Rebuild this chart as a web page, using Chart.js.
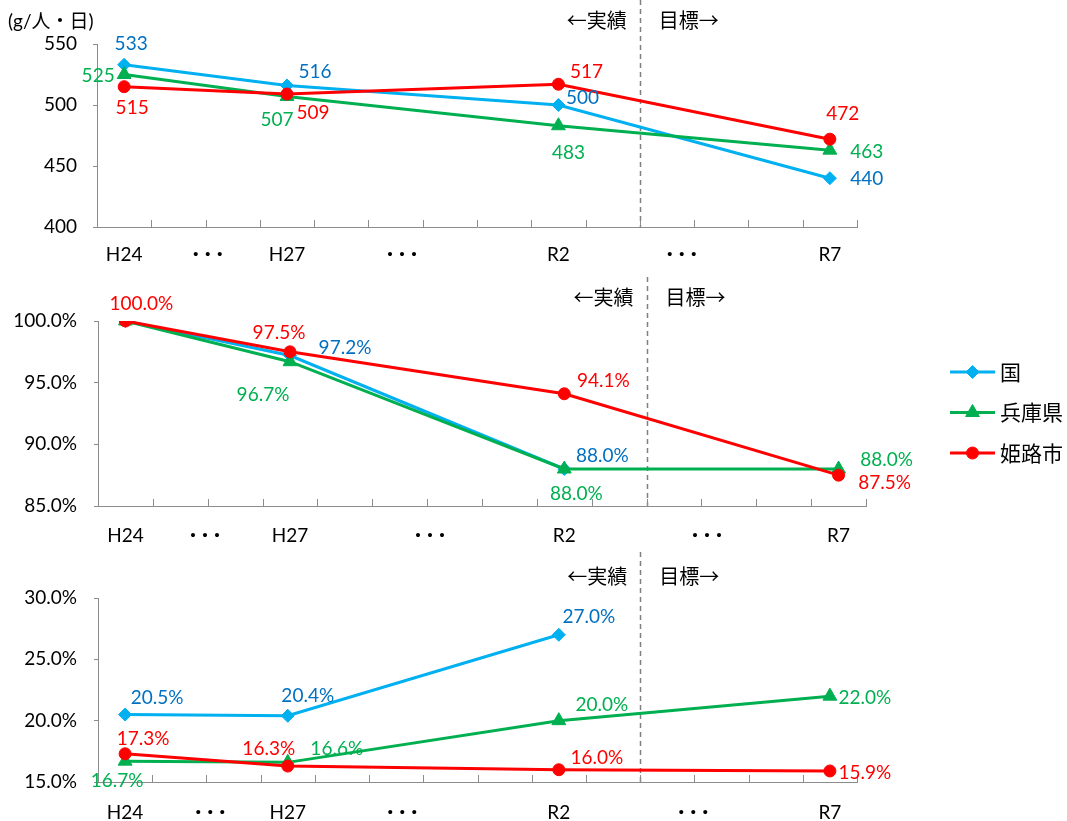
<!DOCTYPE html>
<html lang="ja">
<head>
<meta charset="utf-8">
<title>ごみ排出量等の推移</title>
<script src="https://cdn.jsdelivr.net/npm/chart.js@4.4.1/dist/chart.umd.min.js"></script>
<style>
html,body{margin:0;padding:0;background:#fff;}
#wrap{position:relative;width:1067px;height:821px;overflow:hidden;background:#fff;}
#wrap canvas{position:absolute;left:0;}
</style>
</head>
<body>
<div id="wrap">
<canvas id="c1" width="1067" height="270" style="top:0px"></canvas>
<canvas id="c2" width="1067" height="280" style="top:270px"></canvas>
<canvas id="c3" width="1067" height="271" style="top:550px"></canvas>
</div>
<script>
// ---- data ----
const years = ['H24','H25','H26','H27','H28','H29','H30','R1','R2','R3','R4','R5','R6','R7'];
const shownYears = ['H24','H27','R2','R7'];
const seriesNames = ['国', '兵庫県', '姫路市'];

// 1人1日当たりごみ排出量 (g/人・日)
const kuniWaste   = [533, null, null, 516, null, null, null, null, 500, null, null, null, null, 440];
const hyogoWaste  = [525, null, null, 507, null, null, null, null, 483, null, null, null, null, 463];
const himejiWaste = [515, null, null, 509, null, null, null, null, 517, null, null, null, null, 472];

// H24を100%とした割合
const kuniIndex   = [100.0, null, null, 97.2, null, null, null, null, 88.0, null, null, null, null, null];
const hyogoIndex  = [100.0, null, null, 96.7, null, null, null, null, 88.0, null, null, null, null, 88.0];
const himejiIndex = [100.0, null, null, 97.5, null, null, null, null, 94.1, null, null, null, null, 87.5];

// 率 (%)
const kuniRate   = [20.5, null, null, 20.4, null, null, null, null, 27.0, null, null, null, null, null];
const hyogoRate  = [16.7, null, null, 16.6, null, null, null, null, 20.0, null, null, null, null, 22.0];
const himejiRate = [17.3, null, null, 16.3, null, null, null, null, 16.0, null, null, null, null, 15.9];

// ---- styles ----
const FONT = "Lato, 'Noto Sans CJK JP', sans-serif";
const JP_FONT = "'Noto Sans CJK JP', sans-serif";
const TEXT_SIZE = 19;
const AXIS_GRAY = '#8c8c8c';
const LINE_COLORS  = ['#00B0F0', '#00B050', '#FF0000'];
const LABEL_COLORS = ['#0070C0', '#00B050', '#FF0000'];
const POINT_STYLES = ['rectRot', 'triangle', 'circle'];
const POINT_RADII  = [6.5, 8, 6];
const DRAW_ORDER   = [2, 1, 0];   // 姫路市 on top

function makeDatasets(arrays) {
  return arrays.map((arr, i) => ({
    label: seriesNames[i],
    data: arr,
    order: DRAW_ORDER[i],
    borderColor: LINE_COLORS[i],
    backgroundColor: LINE_COLORS[i],
    borderWidth: 3,
    pointStyle: POINT_STYLES[i],
    pointRadius: POINT_RADII[i],
    pointBorderWidth: 1,
    pointBorderColor: LINE_COLORS[i],
    pointBackgroundColor: LINE_COLORS[i],
    spanGaps: true,
    tension: 0
  }));
}

// axis ornaments, period divider, value labels
function makeDecor(cfg) {
  return {
    id: 'decor',
    beforeDatasetsDraw(chart) {
      const ctx = chart.ctx, xs = chart.scales.x, a = chart.chartArea;
      const dx = Math.round(xs.getPixelForValue(cfg.dividerAt)) + 0.5;
      ctx.save();
      ctx.strokeStyle = '#7f7f7f';
      ctx.lineWidth = 1.5;
      ctx.setLineDash([5, 4]);
      ctx.beginPath();
      ctx.moveTo(dx, a.top - cfg.dividerRise);
      ctx.lineTo(dx, a.bottom);
      ctx.stroke();
      ctx.restore();
    },
    afterDatasetsDraw(chart) {
      const ctx = chart.ctx, xs = chart.scales.x, a = chart.chartArea;
      ctx.save();
      // inside tick marks between categories
      ctx.strokeStyle = AXIS_GRAY;
      ctx.lineWidth = 1;
      for (let k = 1; k <= years.length; k++) {
        const px = Math.round(xs.getPixelForValue(k - 0.5)) + 0.5;
        ctx.beginPath();
        ctx.moveTo(px, a.bottom);
        ctx.lineTo(px, a.bottom - 7);
        ctx.stroke();
      }
      // value labels
      ctx.font = TEXT_SIZE + 'px ' + FONT;
      ctx.textAlign = 'center';
      ctx.textBaseline = 'middle';
      chart.data.datasets.forEach((ds, i) => {
        const meta = chart.getDatasetMeta(i);
        const offs = cfg.labelOffsets[i] || {};
        meta.data.forEach((pt, j) => {
          const v = ds.data[j];
          const o = offs[years[j]];
          if (v == null || !o) return;
          ctx.fillStyle = LABEL_COLORS[i];
          ctx.fillText(cfg.format(v), pt.x + o[0], pt.y + o[1]);
        });
      });
      // period captions
      const dx = xs.getPixelForValue(cfg.dividerAt);
      ctx.fillStyle = '#000';
      ctx.font = '20px ' + JP_FONT;
      ctx.textAlign = 'right';
      ctx.fillText('←実績', dx - 13, a.top - cfg.captionRise);
      ctx.textAlign = 'left';
      ctx.fillText('目標→', dx + 19, a.top - cfg.captionRise);
      // omitted-years marks on the category axis
      ctx.font = 'bold 16px ' + JP_FONT;
      ctx.letterSpacing = '-4px';
      ctx.textAlign = 'center';
      cfg.gapMarks.forEach(v => {
        ctx.fillText('・・・', xs.getPixelForValue(v) - 2, a.bottom + cfg.labelDrop);
      });
      ctx.letterSpacing = '0px';
      // unit caption
      if (cfg.unit) {
        ctx.font = '19px ' + FONT;
        ctx.textAlign = 'left';
        ctx.fillText(cfg.unit, 8, 22);
      }
      ctx.restore();
    }
  };
}

// line-and-marker legend drawn beside the middle panel
const sideLegend = {
  id: 'sideLegend',
  afterDraw(chart) {
    const ctx = chart.ctx;
    const H = Chart.helpers;
    ctx.save();
    chart.data.datasets.forEach((ds, i) => {
      const y = 102 + i * 40.5;
      ctx.strokeStyle = ds.borderColor;
      ctx.fillStyle = ds.backgroundColor;
      ctx.lineWidth = 3;
      ctx.beginPath();
      ctx.moveTo(950, y);
      ctx.lineTo(995, y);
      ctx.stroke();
      if (H && H.drawPoint) {
        ctx.lineWidth = 1;
        H.drawPoint(ctx, {pointStyle: ds.pointStyle, radius: ds.pointRadius, rotation: 0, borderWidth: 1}, 972.5, y);
      }
      ctx.fillStyle = '#000';
      ctx.font = '21px ' + JP_FONT;
      ctx.textAlign = 'left';
      ctx.textBaseline = 'middle';
      ctx.fillText(ds.label, 1000, y);
    });
    ctx.restore();
  }
};

function makeChart(id, arrays, p, extraPlugins) {
  return new Chart(document.getElementById(id), {
    type: 'line',
    data: { labels: years, datasets: makeDatasets(arrays) },
    plugins: [makeDecor(p.decor)].concat(extraPlugins || []),
    options: {
      responsive: false,
      animation: false,
      events: [],
      layout: { padding: { top: p.top, right: p.right, bottom: 0, left: 0 } },
      plugins: { legend: { display: false }, tooltip: { enabled: false } },
      scales: {
        x: {
          type: 'category',
          offset: true,
          grid: { display: false, drawTicks: false, offset: true },
          border: { display: true, color: AXIS_GRAY, width: 1 },
          ticks: {
            autoSkip: false, maxRotation: 0, padding: p.xPad,
            color: '#000', font: { family: FONT, size: TEXT_SIZE },
            callback: (v, i) => shownYears.includes(years[i]) ? years[i] : ''
          },
          afterFit: s => { s.height = p.xHeight; }
        },
        y: {
          min: p.min, max: p.max,
          grid: { drawOnChartArea: false, drawTicks: true, tickLength: 4, color: AXIS_GRAY },
          border: { display: true, color: AXIS_GRAY, width: 1 },
          ticks: {
            stepSize: p.step, padding: p.yPad,
            color: '#000', font: { family: FONT, size: TEXT_SIZE },
            callback: p.tickFormat
          },
          afterFit: s => { s.width = p.yWidth; }
        }
      }
    }
  });
}

const intFmt = v => String(Math.round(v));
const pctFmt = v => Number(v).toFixed(1) + '%';

makeChart('c1', [kuniWaste, hyogoWaste, himejiWaste], {
  top: 44, right: 210, xHeight: 43, xPad: 16, yWidth: 97, yPad: 16,
  min: 400, max: 550, step: 50, tickFormat: intFmt,
  decor: {
    format: intFmt, unit: '(g/人・日)',
    dividerAt: 9.5, dividerRise: 44, captionRise: 24, labelDrop: 27,
    gapMarks: [1.54, 5.12, 10.27],
    labelOffsets: [
      { H24: [7, -21],  H27: [28, -14], R2: [24, -7],  R7: [37, 1] },
      { H24: [-26, 1],  H27: [-10, 23], R2: [10, 27],  R7: [37, 2] },
      { H24: [8, 21],   H27: [26, 19],  R2: [28, -12], R7: [13, -25] }
    ]
  }
});

makeChart('c2', [kuniIndex, hyogoIndex, himejiIndex], {
  top: 51, right: 201, xHeight: 44, xPad: 18, yWidth: 98, yPad: 17,
  min: 85, max: 100, step: 5, tickFormat: pctFmt,
  decor: {
    format: pctFmt,
    dividerAt: 9.5, dividerRise: 44, captionRise: 24, labelDrop: 29,
    gapMarks: [1.45, 5.55, 10.6],
    labelOffsets: [
      { H27: [55, -8],  R2: [38, -13] },
      { H27: [-27, 33], R2: [12, 25], R7: [48, -9] },
      { H24: [16, -17], H27: [-11, -19], R2: [39, -13], R7: [46, 8] }
    ]
  }
}, [sideLegend]);

makeChart('c3', [kuniRate, hyogoRate, himejiRate], {
  top: 48, right: 210, xHeight: 39, xPad: 19, yWidth: 98, yPad: 17,
  min: 15, max: 30, step: 5, tickFormat: pctFmt,
  decor: {
    format: pctFmt,
    dividerAt: 9.5, dividerRise: 46, captionRise: 22, labelDrop: 30,
    gapMarks: [1.57, 5.11, 10.48],
    labelOffsets: [
      { H24: [32, -17], H27: [20, -20], R2: [30, -18] },
      { H24: [-8, 20],  H27: [49, -13], R2: [43, -16], R7: [35, 2] },
      { H24: [18, -15], H27: [-19, -17], R2: [38, -12], R7: [35, 2] }
    ]
  }
});
</script>
</body>
</html>
